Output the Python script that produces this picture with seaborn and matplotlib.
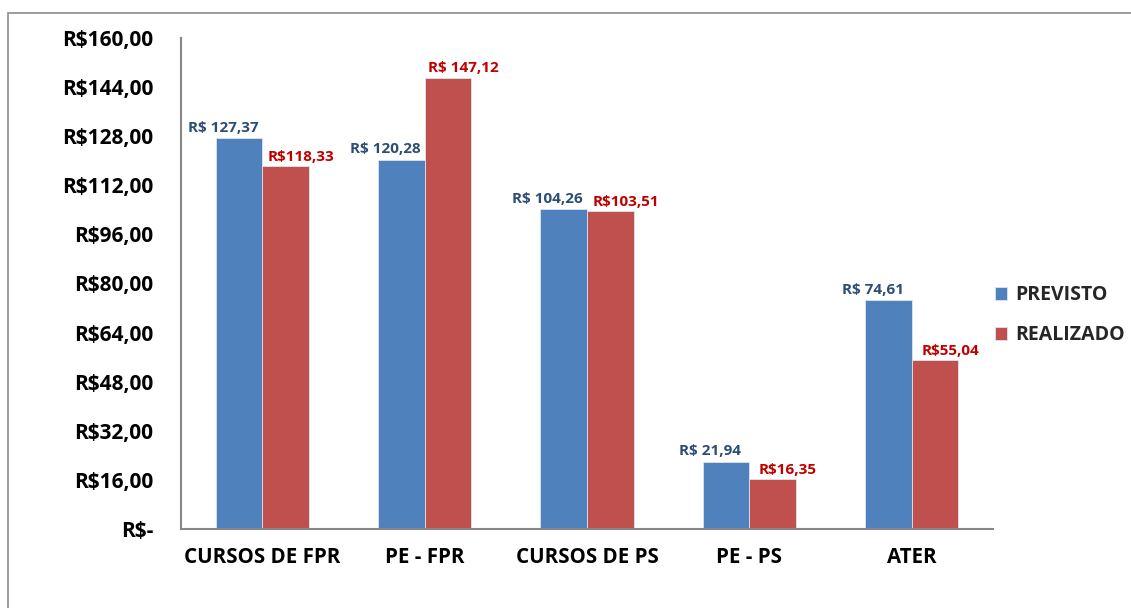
import matplotlib
matplotlib.use("Agg")
import matplotlib.pyplot as plt
import matplotlib.patches as mpatches
import seaborn as sns
import pandas as pd

categorias = ["CURSOS DE FPR", "PE - FPR", "CURSOS DE PS", "PE - PS", "ATER"]
previsto = [127.37, 120.28, 104.26, 21.94, 74.61]
realizado = [118.33, 147.12, 103.51, 16.35, 55.04]
rotulos_previsto = ["R$ 127,37", "R$ 120,28", "R$ 104,26", "R$ 21,94", "R$ 74,61"]
rotulos_realizado = ["R$118,33", "R$ 147,12", "R$103,51", "R$16,35", "R$55,04"]
series = ["PREVISTO", "REALIZADO"]
yticks = [0, 16, 32, 48, 64, 80, 96, 112, 128, 144, 160]

df = pd.DataFrame({
    "categoria": categorias * 2,
    "serie": [series[0]] * len(categorias) + [series[1]] * len(categorias),
    "valor": previsto + realizado,
})

sns.set_theme(style="white")
plt.rcParams["font.family"] = ["Open Sans", "DejaVu Sans"]
plt.rcParams["font.weight"] = "bold"

cor_azul = "#4F81BD"
cor_verm = "#C0504D"
txt_azul = "#2C4D75"
txt_verm = "#C00000"
eixo = "#868686"

fig = plt.figure(figsize=(11.31, 6.08), dpi=100)
ax = fig.add_axes([181 / 1131, 1 - 529 / 608, (993 - 181) / 1131, (529 - 38) / 608])

sns.barplot(data=df, x="categoria", y="valor", hue="serie", order=categorias,
            hue_order=series, palette=[cor_azul, cor_verm], width=0.573, gap=0,
            saturation=1, edgecolor="#DCE3EE", linewidth=0.6, ax=ax)

# data labels above each bar
for patch, lab in zip(ax.patches[:len(categorias)], rotulos_previsto):
    x = patch.get_x() + patch.get_width() / 2
    ax.annotate(lab, (x, patch.get_height()), xytext=(-11.5, 2.5),
                textcoords="offset points", ha="center", va="bottom",
                color=txt_azul, fontsize=11, fontweight="bold")
for patch, lab in zip(ax.patches[len(categorias):2 * len(categorias)], rotulos_realizado):
    x = patch.get_x() + patch.get_width() / 2
    ax.annotate(lab, (x, patch.get_height()), xytext=(11, 1.5),
                textcoords="offset points", ha="center", va="bottom",
                color=txt_verm, fontsize=11, fontweight="bold")

ax.set_xlim(-0.5, len(categorias) - 0.5)
ax.set_ylim(0, 160)
ax.set_yticks(yticks)
ax.set_yticklabels(["R$-" if v == 0 else f"R${v:.2f}".replace(".", ",") for v in yticks],
                   fontsize=15, fontweight="bold")

bounds = [i - 0.5 for i in range(len(categorias) + 1)]
ax.set_xticks(bounds)
ax.set_xticklabels([])
ax.set_xticks(range(len(categorias)), minor=True)
ax.set_xticklabels(categorias, minor=True, fontsize=14.8, fontweight="bold")
ax.tick_params(axis="x", which="minor", length=0, pad=13, colors="black")
ax.tick_params(axis="x", which="major", length=6, width=1.5, color=eixo, direction="out")
ax.tick_params(axis="y", length=6, width=1.5, color=eixo, direction="out", pad=14,
               labelcolor="black")
ax.set_xlabel("")
ax.set_ylabel("")

for s in ["top", "right"]:
    ax.spines[s].set_visible(False)
for s in ["left", "bottom"]:
    ax.spines[s].set_color(eixo)
    ax.spines[s].set_linewidth(1.5)

leg = ax.legend(loc="upper left", bbox_to_anchor=(1.002, 0.497), frameon=False,
                fontsize=14, handlelength=0.65, handleheight=0.65, handletextpad=0.4,
                labelspacing=1.05, borderaxespad=0, borderpad=0)
for t in leg.get_texts():
    t.set_fontweight("bold")

# chart area border
fig.patches.append(mpatches.Rectangle((8 / 1131, -0.1), 1.2, 1 - 13 / 608 + 0.1,
                                      transform=fig.transFigure, fill=False,
                                      edgecolor="#8C8C8C", linewidth=1.2))

fig.savefig("out.png", dpi=100)
